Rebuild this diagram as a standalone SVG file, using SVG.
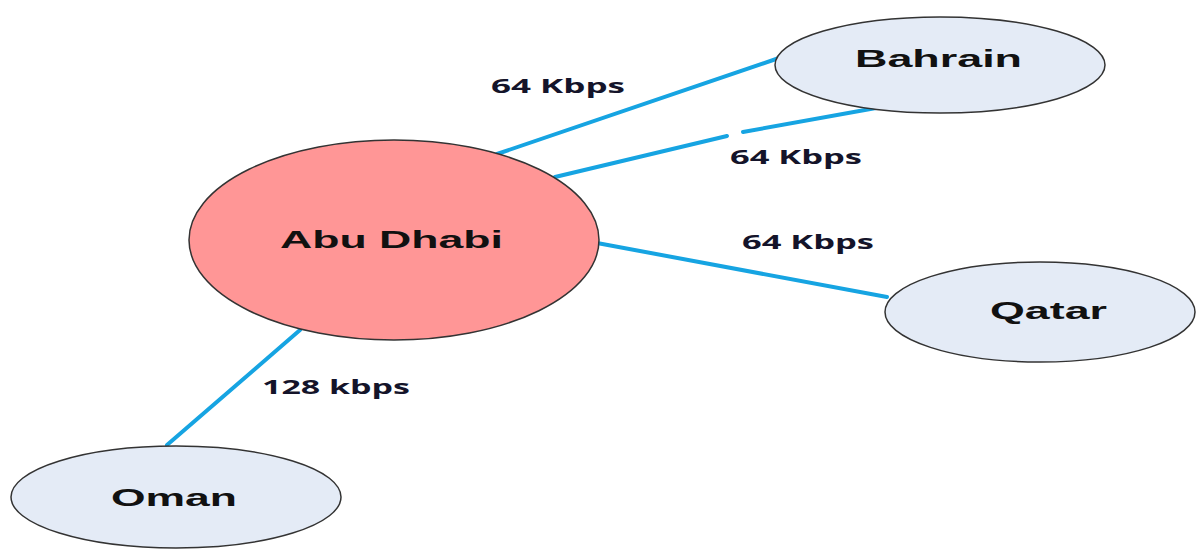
<svg xmlns="http://www.w3.org/2000/svg" width="1196" height="549" viewBox="0 0 1196 549">
<style>
.node{stroke:#333;stroke-width:1.5}
.hub{fill:#ff9696}
.leaf{fill:#e4ebf6}
.nt{font-family:"Liberation Sans",Arial,sans-serif;font-weight:bold;font-size:24px;fill:#111}
.link{stroke:#16a4e2;stroke-width:4;stroke-linecap:round;fill:none}
.lbl{font-family:"Open Sans","Liberation Sans",sans-serif;font-weight:bold;font-size:20px;fill:#14142a}
</style>
<rect width="1196" height="549" fill="#fff"/>
<g id="connectors">
<line class="link" x1="497" y1="154" x2="779" y2="58"/>
<line class="link" x1="555" y1="177" x2="727" y2="136"/>
<line class="link" x1="743" y1="132" x2="876" y2="108"/>
<line class="link" x1="597" y1="243" x2="887" y2="297"/>
<line class="link" x1="300" y1="330" x2="167" y2="445"/>
<text class="lbl" x="491" y="93" textLength="134" lengthAdjust="spacingAndGlyphs">64 Kbps</text>
<text class="lbl" x="730" y="164" textLength="132" lengthAdjust="spacingAndGlyphs">64 Kbps</text>
<text class="lbl" x="742" y="249" textLength="132" lengthAdjust="spacingAndGlyphs">64 Kbps</text>
<text class="lbl" x="262" y="394" textLength="148" lengthAdjust="spacingAndGlyphs">128 kbps</text>
</g>
<g id="abu-dhabi">
<ellipse class="node hub" cx="394" cy="240" rx="205" ry="100"/>
<text class="nt" x="280" y="248" textLength="223" lengthAdjust="spacingAndGlyphs">Abu Dhabi</text>
</g>
<g id="bahrain">
<ellipse class="node leaf" cx="940" cy="65" rx="165" ry="48"/>
<text class="nt" x="855" y="67" textLength="167" lengthAdjust="spacingAndGlyphs">Bahrain</text>
</g>
<g id="qatar">
<ellipse class="node leaf" cx="1040" cy="312" rx="155" ry="50"/>
<text class="nt" x="990" y="319" textLength="117" lengthAdjust="spacingAndGlyphs">Qatar</text>
</g>
<g id="oman">
<ellipse class="node leaf" cx="176" cy="497" rx="165" ry="51"/>
<text class="nt" x="111" y="506" textLength="126" lengthAdjust="spacingAndGlyphs">Oman</text>
</g>
</svg>
